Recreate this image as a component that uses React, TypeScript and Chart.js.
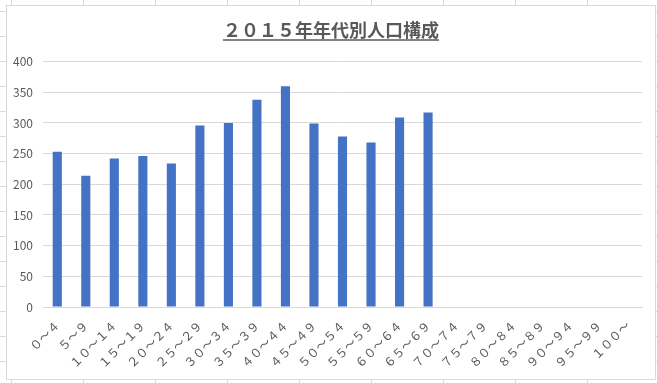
import React, { useEffect, useRef } from "react";
import { Chart, registerables } from "chart.js";

Chart.register(...registerables);

const categories = [
  "０～４", "５～９", "１０～１４", "１５～１９", "２０～２４", "２５～２９", "３０～３４",
  "３５～３９", "４０～４４", "４５～４９", "５０～５４", "５５～５９", "６０～６４", "６５～６９",
  "７０～７４", "７５～７９", "８０～８４", "８５～８９", "９０～９４", "９５～９９", "１００～",
];
const population = [253, 214, 242, 246, 234, 296, 300, 338, 360, 299, 278, 268, 309, 317, null, null, null, null, null, null, null];
const titleText = "２０１５年年代別人口構成";
const yMax = 400;
const yStep = 50;

const FONT = "'Noto Sans CJK JP', 'Noto Sans', sans-serif";
const GRAY = "#595959";
const GRID = "#d9d9d9";

const titlePlugin = {
  id: "titleTweak",
  afterLayout(chart: any) {
    const tb = chart.titleBlock;
    if (!tb) return;
    tb.left = 0;
    tb.right = chart.width;
    tb.width = chart.width;
  },
  afterDraw(chart: any) {
    const tb = chart.titleBlock;
    if (!tb) return;
    const ctx = chart.ctx;
    ctx.save();
    ctx.font = `bold 18px ${FONT}`;
    const w = ctx.measureText(titleText).width;
    const cx = chart.width / 2;
    const y = tb.top + 21;
    ctx.strokeStyle = GRAY;
    ctx.lineWidth = 1.5;
    ctx.beginPath();
    ctx.moveTo(cx - w / 2, y);
    ctx.lineTo(cx + w / 2, y);
    ctx.stroke();
    ctx.restore();
  },
};

export default function App() {
  const ref = useRef<HTMLCanvasElement | null>(null);
  useEffect(() => {
    document.body.style.margin = "0";
    if (!ref.current) return;
    const chart = new Chart(ref.current, {
      type: "bar",
      data: {
        labels: categories,
        datasets: [
          {
            data: population as any,
            backgroundColor: "#4472c4",
            barPercentage: 0.32,
            categoryPercentage: 1,
          },
        ],
      },
      plugins: [titlePlugin],
      options: {
        animation: false,
        responsive: false,
        layout: { padding: { left: 0, right: 13, top: 13, bottom: 0 } },
        plugins: {
          legend: { display: false },
          tooltip: { enabled: false },
          title: {
            display: true,
            text: titleText,
            color: GRAY,
            font: { family: FONT, size: 18, weight: "bold" },
            padding: { top: 0, bottom: 21 },
            align: "center",
          },
        },
        scales: {
          x: {
            grid: { display: false, drawTicks: false },
            border: { display: true, color: GRID },
            ticks: {
              color: GRAY,
              font: { family: FONT, size: 12 },
              minRotation: 45,
              maxRotation: 45,
              autoSkip: false,
              padding: 11,
            },
            afterFit(scale: any) {
              scale.height = 72;
            },
          },
          y: {
            min: 0,
            max: yMax,
            grid: { color: GRID, drawTicks: false },
            border: { display: false },
            ticks: {
              stepSize: yStep,
              color: GRAY,
              font: { family: FONT, size: 12 },
              padding: 10,
            },
            afterFit(scale: any) {
              scale.width = 36;
            },
          },
        },
      },
    });
    return () => chart.destroy();
  }, []);

  return (
    <div
      style={{
        position: "relative",
        width: 657,
        height: 383,
        overflow: "hidden",
        backgroundColor: "#fff",
        backgroundImage:
          "linear-gradient(to right, #dadada 1px, transparent 1px), linear-gradient(to bottom, #dadada 1px, transparent 1px)",
        backgroundSize: "72px 25px",
        backgroundPosition: "11px 11px",
      }}
    >
      <div
        style={{
          position: "absolute",
          left: 6,
          top: 5,
          width: 650,
          height: 375,
          boxSizing: "border-box",
          border: `1px solid ${GRID}`,
          background: "#fff",
        }}
      >
        <canvas ref={ref} width={648} height={373} style={{ display: "block" }} />
      </div>
    </div>
  );
}
